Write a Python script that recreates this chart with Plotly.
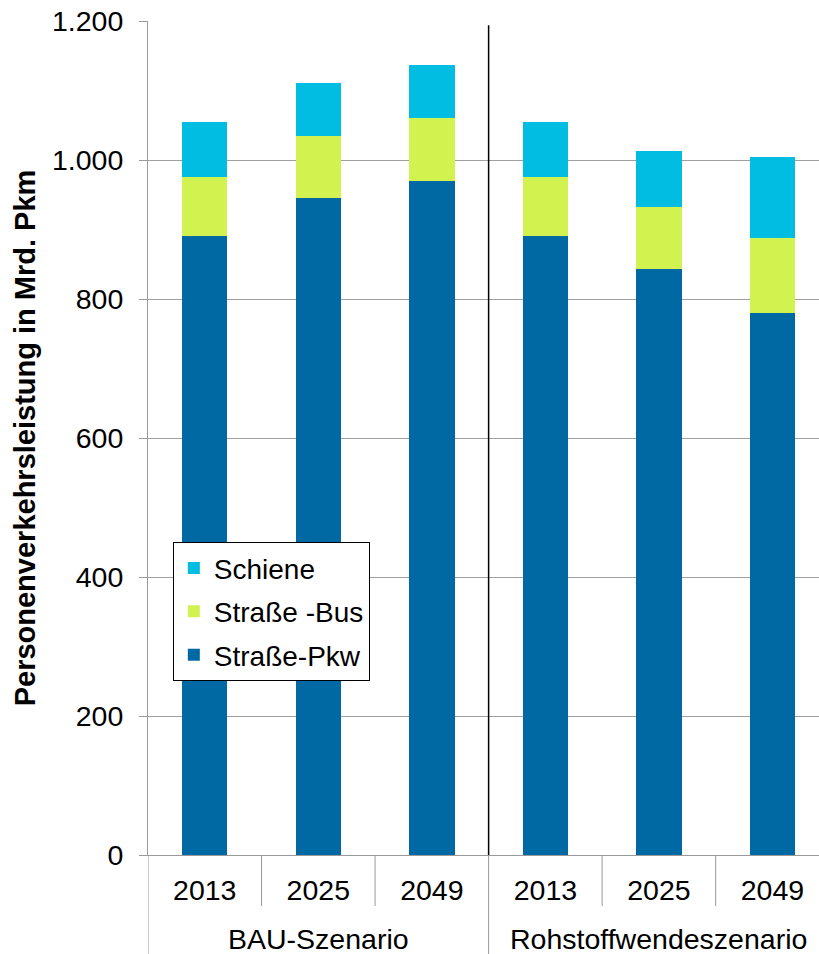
import plotly.graph_objects as go

scenarios = ["BAU-Szenario"] * 3 + ["Rohstoffwendeszenario"] * 3
years = ["2013", "2025", "2049"] * 2
scenario_labels = ["BAU-Szenario", "Rohstoffwendeszenario"]

pkw = [890, 945, 970, 890, 843, 780]
bus = [85, 89, 91, 85, 90, 108]
schiene = [79, 77, 76, 79, 80, 116]

series_names = ["Straße-Pkw", "Straße -Bus", "Schiene"]
series_values = [pkw, bus, schiene]
series_colors = ["#0069a4", "#d2f250", "#00bde1"]
legend_ranks = [3, 2, 1]

FONT = "Liberation Sans, Arial, sans-serif"
GRAY = "#999999"

cats = [f"{s} {y}" for s, y in zip(scenarios, years)]

fig = go.Figure()
for name, vals, col, rk in zip(series_names, series_values, series_colors, legend_ranks):
    fig.add_trace(go.Bar(
        x=cats, y=vals, name=name, legendgroup=name, legendrank=rk,
        marker=dict(color=col, line=dict(width=0)),
    ))

x_range = [-0.5, 5.41]
plot_h = 954 - 21 - 99

def py(px_below):
    return -px_below / plot_h

shapes = []
# separators between years (within each scenario)
for i in range(len(cats) - 1):
    if scenarios[i] == scenarios[i + 1]:
        shapes.append(dict(type="line", xref="x", yref="paper", x0=i + 0.5, x1=i + 0.5,
                           y0=0, y1=py(51), line=dict(color=GRAY, width=1)))
    else:
        shapes.append(dict(type="line", xref="x", yref="paper", x0=i + 0.5, x1=i + 0.5,
                           y0=0, y1=py(100), line=dict(color=GRAY, width=1)))
        # black separator inside plot
        shapes.append(dict(type="line", xref="x", yref="y", x0=i + 0.5, x1=i + 0.5,
                           y0=0, y1=1194, line=dict(color="black", width=1.5)))
shapes.append(dict(type="line", xref="x", yref="paper", x0=-0.5, x1=-0.5,
                   y0=0, y1=py(100), line=dict(color=GRAY, width=1)))

annotations = []
for lab in scenario_labels:
    idx = [i for i, s in enumerate(scenarios) if s == lab]
    mid = idx[len(idx) // 2]
    annotations.append(dict(x=cats[mid], y=py(84), xref="x", yref="paper",
                            text=lab, showarrow=False, yanchor="middle",
                            font=dict(family=FONT, size=28.5, color="black")))

fig.update_layout(
    width=819, height=954,
    margin=dict(l=148, r=0, t=21, b=99),
    barmode="stack", bargap=0.6,
    paper_bgcolor="white", plot_bgcolor="white",
    separators=",.",
    font=dict(family=FONT, size=28, color="black"),
    showlegend=True,
    legend=dict(
        x=0.037, y=0.375, xanchor="left", yanchor="top",
        traceorder="grouped", tracegroupgap=4,
        bgcolor="white", bordercolor="black", borderwidth=1,
        font=dict(family=FONT, size=28, color="black"),
    ),
    xaxis=dict(
        type="category", range=x_range,
        tickvals=cats, ticktext=years,
        showline=True, linecolor=GRAY, linewidth=1,
        ticks="", ticklabelstandoff=10,
        tickfont=dict(family=FONT, size=28.5, color="black"),
        showgrid=False,
    ),
    yaxis=dict(
        range=[0, 1200], tickvals=[0, 200, 400, 600, 800, 1000, 1200],
        tickformat=",d",
        showline=True, linecolor=GRAY, linewidth=1,
        ticks="outside", ticklen=8, tickcolor=GRAY,
        showgrid=True, gridcolor="#a0a0a0", gridwidth=1,
        zeroline=False,
        tickfont=dict(family=FONT, size=28.5, color="black"),
        ticklabelstandoff=10,
        title=dict(text="<b>Personenverkehrsleistung in Mrd. Pkm</b>",
                   font=dict(family=FONT, size=29, color="black"), standoff=7),
    ),
    shapes=shapes,
    annotations=annotations,
)

fig.write_html("out.html")
